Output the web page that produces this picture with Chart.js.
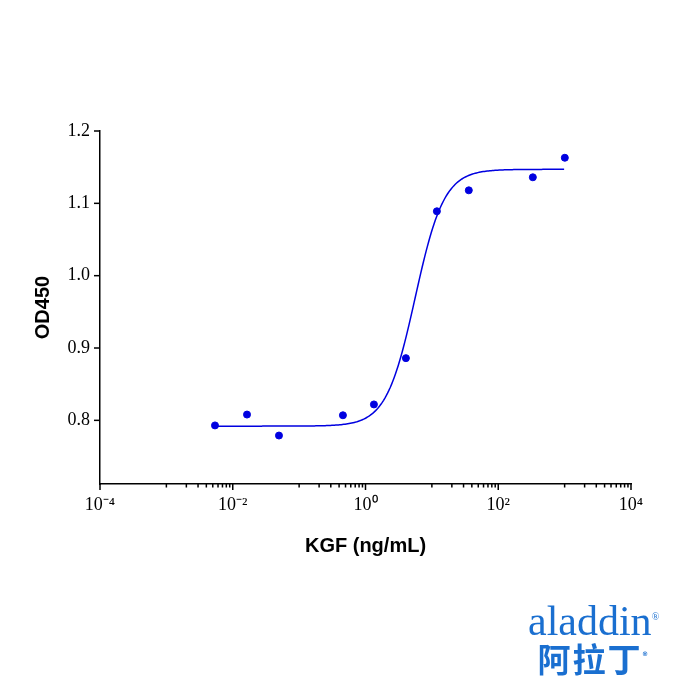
<!DOCTYPE html>
<html><head><meta charset="utf-8">
<script src="https://cdn.jsdelivr.net/npm/chart.js@4/dist/chart.umd.min.js"></script>
<style>body{margin:0;background:#fff}#w{position:relative;width:700px;height:700px}
#logo{position:absolute;left:528px;top:600px;color:#1a6fd0;font-family:"Liberation Serif",serif;text-align:center;line-height:1}
#logo .a{font-size:42px}#logo .c{font-family:"Noto Sans CJK SC";font-size:33px;letter-spacing:2px;font-weight:bold}
</style></head><body><div id="w"><canvas id="c" width="700" height="700"></canvas>
<div id="logo"><div class="a">aladdin<sup style="font-size:10px">®</sup></div><div class="c">阿拉丁<sup style="font-size:10px">®</sup></div></div></div>
<script>
const concentrations=[0.0054,0.0164,0.0497,0.457,1.34,4.06,11.9,36,332,1007];
const od450=[0.793,0.808,0.779,0.807,0.822,0.886,1.089,1.118,1.136,1.163];
const fitParams={bottom:0.792,top:1.147,ec50:5.6,hill:2.0};
const xTickDecades=[-4,-2,0,2,4];
const yTicks=[0.8,0.9,1.0,1.1,1.2];
const sup={'-':'⁻','0':'⁰','2':'²','4':'⁴'};
const curve=[];
for(let l=Math.log10(concentrations[0]);l<=Math.log10(concentrations[9])+1e-9;l+=0.02){const x=Math.pow(10,l);
 curve.push({x,y:fitParams.bottom+(fitParams.top-fitParams.bottom)/(1+Math.pow(fitParams.ec50/x,fitParams.hill))});}
const blue='#0000e0';
const tickPlugin={id:'tk',afterDraw(ch){const c=ch.ctx,xs=ch.scales.x,ys=ch.scales.y;c.save();c.strokeStyle='#000';c.lineWidth=1.5;
 const b=ys.bottom;
 for(let i=0;i<xTickDecades.length;i++){const d=xTickDecades[i];let p=xs.getPixelForValue(Math.pow(10,d));c.beginPath();c.moveTo(p,b);c.lineTo(p,b+6);c.stroke();
  if(i<xTickDecades.length-1){for(let k=1;k<=9;k++){p=xs.getPixelForValue(k*Math.pow(10,d+1));c.beginPath();c.moveTo(p,b);c.lineTo(p,b+3.5);c.stroke();}}}
 for(const v of yTicks){const p=ys.getPixelForValue(v);c.beginPath();c.moveTo(xs.left,p);c.lineTo(xs.left-6,p);c.stroke();}
 c.restore();}};
new Chart(document.getElementById('c'),{type:'scatter',
 data:{datasets:[{data:concentrations.map((x,i)=>({x,y:od450[i]})),backgroundColor:blue,borderColor:blue,pointRadius:3.5},
  {type:'line',data:curve,borderColor:blue,borderWidth:1.5,pointRadius:0,fill:false,tension:0}]},
 options:{responsive:false,animation:false,layout:{padding:{left:31,right:69,top:131,bottom:142}},
  plugins:{legend:{display:false},tooltip:{enabled:false}},
  scales:{x:{type:'logarithmic',min:1e-4,max:1e4,afterFit(s){s.height=74},
    afterBuildTicks(s){s.ticks=xTickDecades.map(d=>({value:Math.pow(10,d)}))},
    grid:{display:false,drawTicks:false},border:{color:'#000',width:1.5},
    ticks:{padding:10,color:'#000',font:{family:'Liberation Serif',size:18},maxRotation:0,autoSkip:false,
     callback(v){const d=Math.round(Math.log10(v));return '10'+String(d).split('').map(ch=>sup[ch]).join('')}},
    title:{display:true,text:'KGF (ng/mL)',color:'#000',font:{family:'Liberation Sans',size:20,weight:'bold'},padding:0}},
   y:{min:0.712,max:1.2,afterFit(s){s.width=69},afterBuildTicks(s){s.ticks=yTicks.map(v=>({value:v}))},
    grid:{display:false,drawTicks:false},border:{color:'#000',width:1.5},
    ticks:{padding:10,color:'#000',font:{family:'Liberation Serif',size:18},callback:v=>v.toFixed(1)},
    title:{display:true,text:'OD450',color:'#000',font:{family:'Liberation Sans',size:20,weight:'bold'},padding:0}}}},
 plugins:[tickPlugin]});
</script></body></html>
